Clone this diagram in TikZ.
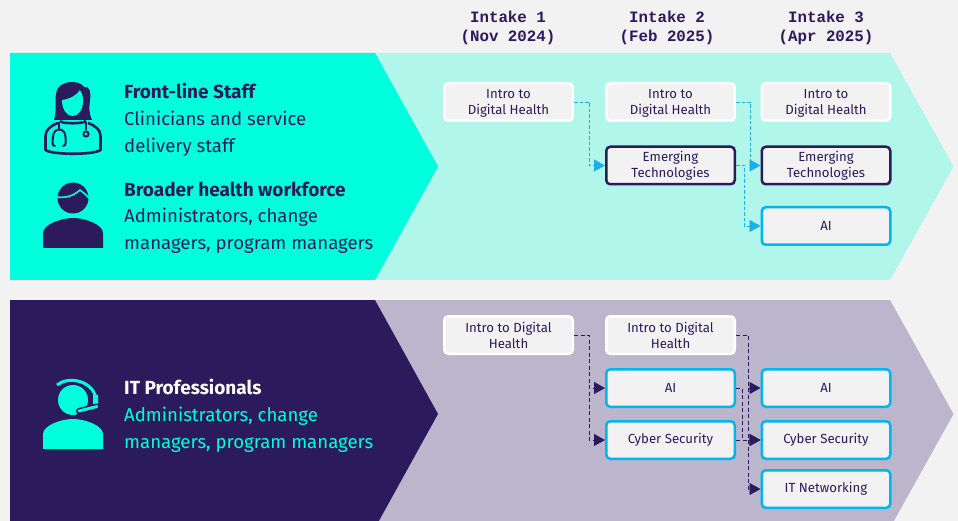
\documentclass[tikz,border=0pt]{standalone}
\usepackage{fontspec}
\setmainfont{Fira Sans}
\setmonofont{Liberation Mono}
\usetikzlibrary{arrows.meta}
\definecolor{pagebg}{HTML}{F2F2F2}
\definecolor{navy}{HTML}{2B1A5C}
\definecolor{aqua}{HTML}{00FFDD}
\definecolor{aqualight}{HTML}{B0F6EA}
\definecolor{lav}{HTML}{BBB6CB}
\definecolor{sky}{HTML}{00B5F0}
\definecolor{skyline}{HTML}{1EAEE8}
\newcommand\lowerline{\rule{0pt}{12pt}}
\tikzset{
  x=1pt,y=-1pt,
  course/.style={draw,fill=pagebg,line width=2.5pt,rounded corners=4pt,minimum width=128.5pt,minimum height=37.5pt,inner sep=0pt,align=center,text=navy,font=\fontsize{13.2}{16}\selectfont},
  plain/.style={course,draw=white},
  dark/.style={course,draw=navy},
  blue/.style={course,draw=sky},
  head/.style={align=center,text=navy,font=\fontsize{15.8}{19}\selectfont\ttfamily\bfseries},
  title/.style={anchor=base west,inner sep=0pt,font=\fontsize{19}{22}\selectfont\bfseries},
  body/.style={anchor=base west,inner sep=0pt,font=\fontsize{18.6}{22}\selectfont},
  linkA/.style={draw=skyline,line width=0.8pt,dash pattern=on 3.5pt off 2pt,-{Triangle[length=11pt,width=12pt,fill=skyline]}},
  linkB/.style={draw=navy,line width=0.9pt,dash pattern=on 4pt off 2.5pt,-{Triangle[length=11pt,width=12pt,fill=navy]}},
}
\begin{document}
\begin{tikzpicture}
\useasboundingbox (0,0) rectangle (958,521);
\fill[pagebg] (0,0) rectangle (958,521);
% bands
\fill[aqualight] (370,53) -- (890,53) -- (953.5,166.5) -- (890,280) -- (370,280) -- cycle;
\fill[aqua] (10,53) -- (375,53) -- (438,166.5) -- (375,280) -- (10,280) -- cycle;
\begin{scope}
\clip (0,0) rectangle (958,521);
\fill[lav] (370,300) -- (890,300) -- (953.5,414) -- (890,528) -- (370,528) -- cycle;
\fill[navy] (10,300) -- (375,300) -- (438,414) -- (375,528) -- (10,528) -- cycle;
\end{scope}
% headers
\node[head] (h1) at (508,28) {Intake 1\\(Nov 2024)};
\node[head] (h2) at (667,28) {Intake 2\\(Feb 2025)};
\node[head] (h3) at (826,28) {Intake 3\\(Apr 2025)};
% doctor icon
\fill[navy] (54,120) .. controls (57,110) and (55,100) .. (56,94) .. controls (57,85) and (65,82) .. (72,82) .. controls (78,82) and (82,84) .. (84,87) .. controls (90,86) and (91,92) .. (90,100) .. controls (89,108) and (89,114) .. (92,120) -- cycle;
\fill[aqua] (62,100) .. controls (70,99) and (77,95) .. (80,90) .. controls (82,93) and (83,96) .. (83,101) .. controls (83,110) and (78,116) .. (72.5,116) .. controls (67,116) and (62,110) .. (62,100) -- cycle;
\draw[navy,line width=2.6pt] (60,121) .. controls (62,124) and (83,124) .. (86,121);
\draw[navy,line width=2.6pt,line join=round] (58,123) .. controls (50,126) and (45.5,130) .. (45.5,136) -- (45.5,150) .. controls (52,155) and (94,155) .. (100.5,150) -- (100.5,136) .. controls (100.5,130) and (96,126) .. (88,123);
\draw[navy,line width=2pt] (59,122) -- (59,130);
\draw[navy,line width=2pt,line cap=round] (55,146) .. controls (51,146) and (53,140) .. (53,137) .. controls (53,127) and (65.5,127) .. (65.5,137) .. controls (65.5,140) and (67,146) .. (63,146);
\draw[navy,line width=2pt] (86,122) -- (86,130);
\draw[navy,line width=2pt,fill=aqua] (86,134) circle[radius=2.6pt];
% man icon
\fill[navy] (43,248) -- (43,233) .. controls (43,225) and (60,218) .. (73,218) .. controls (86,218) and (103,225) .. (103,233) -- (103,248) -- cycle;
\fill[navy] (73,198) circle[radius=15.5pt];
\draw[aqua,line width=1.6pt] (55,197) .. controls (65,198) and (72,197) .. (80,190) .. controls (83,192) and (85,194) .. (89,198);
% headset icon
\fill[aqua] (43,449) -- (43,434) .. controls (43,426) and (60,419) .. (73,419) .. controls (86,419) and (103,426) .. (103,434) -- (103,449) -- cycle;
\fill[aqua] (73,400) circle[radius=15pt];
\draw[aqua,line width=3pt] (57,385) .. controls (68,376) and (92,380) .. (96,398);
\fill[navy] (73,417) -- (90,405) -- (90,417) -- cycle;
\fill[aqua] (93,395) -- (98,395) -- (98,406) -- (93,408) -- cycle;
\draw[navy,line width=6pt,line cap=round] (79,411) -- (97,406.5);
\draw[aqua,line width=3pt,line cap=round] (79,411) -- (97,406.5);
% left texts
\node[title,text=navy] (t1) at (124,99) {Front-line Staff};
\node[body,text=navy] (t2) at (124,126) {Clinicians and service};
\node[body,text=navy] (t3) at (124,153) {delivery staff};
\node[title,text=navy] (t4) at (124,197) {Broader health workforce};
\node[body,text=navy] (t5) at (124,223) {Administrators, change};
\node[body,text=navy] (t6) at (124,250) {managers, program managers};
\node[title,text=white] (t7) at (124,394) {IT Professionals};
\node[body,text=aqua] (t8) at (124,421) {Administrators, change};
\node[body,text=aqua] (t9) at (124,448) {managers, program managers};
% course boxes, upper band
\node[plain] (a1) at (508.5,102) {\lowerline Intro to\\Digital Health};
\node[plain] (a2) at (670.5,102) {\lowerline Intro to\\Digital Health};
\node[plain] (a3) at (826,102) {\lowerline Intro to\\Digital Health};
\node[dark] (a4) at (670.5,165.5) {Emerging\\Technologies};
\node[dark] (a5) at (826,165.5) {Emerging\\Technologies};
\node[blue] (a6) at (826,226) {AI};
% course boxes, lower band
\node[plain] (b1) at (508.5,335) {\lowerline Intro to Digital\\Health};
\node[plain] (b2) at (670.5,335) {\lowerline Intro to Digital\\Health};
\node[blue] (b3) at (670.5,388) {AI};
\node[blue] (b4) at (670.5,440) {Cyber Security};
\node[blue] (b5) at (826,388) {AI};
\node[blue] (b6) at (826,440) {Cyber Security};
\node[blue] (b7) at (826,489) {IT Networking};
% connectors
\draw[linkA] (a1.east) -- ++(15,0) |- (a4.west);
\draw[linkA] (a2.east) -- ++(14,0) |- (a5.west);
\draw[linkA] (a4.east) -- ++(8,0) |- (a6.west);
\draw[linkB] (b1.east) -- ++(15,0) |- (b3.west);
\draw[linkB] (b1.east) -- ++(15,0) |- (b4.west);
\draw[linkB] (b2.east) -- ++(12,0) |- (b5.west);
\draw[linkB] (b2.east) -- ++(12,0) |- (b7.west);
\draw[linkB] (b3.east) -- ++(6,0) |- (b6.west);
\draw[linkB] (b4.east) -- (b6.west);
\end{tikzpicture}
\end{document}
